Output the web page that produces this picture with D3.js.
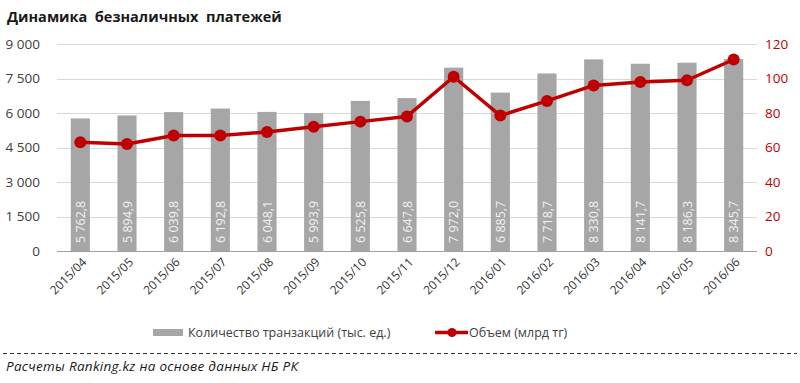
<!DOCTYPE html>
<html><head><meta charset="utf-8">
<script src="https://cdn.jsdelivr.net/npm/d3@7"></script>
<style>
body{margin:0;background:#fff;}
text{font-family:"Open Sans","Noto Sans",sans-serif;}
</style></head>
<body><svg id="c" width="800" height="383"></svg>
<script>
const categories = ["2015/04","2015/05","2015/06","2015/07","2015/08","2015/09","2015/10","2015/11","2015/12","2016/01","2016/02","2016/03","2016/04","2016/05","2016/06"];
const transactions = [5762.8,5894.9,6039.8,6192.8,6048.1,5993.9,6525.8,6647.8,7972.0,6885.7,7718.7,8330.8,8141.7,8186.3,8345.7];
const volume = [63,62,67,67,69,72,75,78,101,78.5,87,96,98,99,111];
const leftTicks = [0,1500,3000,4500,6000,7500,9000];
const rightTicks = [0,20,40,60,80,100,120];
const title = "Динамика  безналичных  платежей";
const seriesNames = ["Количество транзакций (тыс. ед.)","Объем (млрд тг)"];
const footer = "Расчеты Ranking.kz на основе данных НБ РК";

const svg = d3.select("#c");
const L=57,R=757,T=44,B=251;
const x = d3.scaleBand().domain(categories).range([L,R]).paddingInner(0.59).paddingOuter(0.295);
const yL = d3.scaleLinear().domain([0,9000]).range([B,T]);
const yR = d3.scaleLinear().domain([0,120]).range([B,T]);
const fmt = v => d3.format(",")(v).replace(/,/g," ");
const fmtBar = v => d3.format(",.1f")(v).replace(/,/g," ").replace(".",",");

svg.append("text").attr("x",7).attr("y",22).attr("font-size",14.5).attr("font-weight","bold")
  .attr("fill","#1a1a1a").style("white-space","pre").text(title);

// gridlines
svg.append("g").selectAll("line").data(leftTicks.filter(d=>d>0)).join("line")
  .attr("x1",L).attr("x2",R).attr("y1",d=>Math.round(yL(d))+0.5).attr("y2",d=>Math.round(yL(d))+0.5)
  .attr("stroke","#d9d9d9").attr("stroke-width",1);

// left axis
const gl = svg.append("g").attr("transform",`translate(${L},0)`)
  .call(d3.axisLeft(yL).tickValues(leftTicks).tickFormat(fmt).tickSize(0).tickPadding(17));
gl.select(".domain").remove();
gl.selectAll(".tick text").attr("font-size",13.5).attr("fill","#404040").attr("font-family","Open Sans, sans-serif")
  .attr("x",null).attr("transform","translate(-17,0)").attr("text-anchor","end");

// right axis
const gr = svg.append("g").attr("transform",`translate(${R},0)`)
  .call(d3.axisRight(yR).tickValues(rightTicks).tickSize(0).tickPadding(8));
gr.select(".domain").remove();
gr.selectAll("text").attr("font-size",13.5).attr("fill","#c00000").attr("font-family","Open Sans, sans-serif");

// bars
svg.append("g").selectAll("rect").data(transactions).join("rect")
  .attr("x",(d,i)=>x(categories[i])).attr("width",x.bandwidth())
  .attr("y",d=>yL(d)).attr("height",d=>B-yL(d)).attr("fill","#a6a6a6");

// baseline
svg.append("line").attr("x1",L).attr("x2",R).attr("y1",B+0.5).attr("y2",B+0.5).attr("stroke","#a0a0a0").attr("stroke-width",1.2);

// bar labels
svg.append("g").selectAll("text").data(transactions).join("text")
  .attr("transform",(d,i)=>`translate(${x(categories[i])+x.bandwidth()/2+4.5},${B-8}) rotate(-90)`)
  .attr("font-size",12.5).attr("fill","#f2f2f2").attr("text-anchor","start").text(fmtBar);

// line
const cx = i => x(categories[i])+x.bandwidth()/2;
svg.append("path").datum(volume)
  .attr("d",d3.line().x((d,i)=>cx(i)).y(d=>yR(d)))
  .attr("fill","none").attr("stroke","#c00000").attr("stroke-width",3.5).attr("stroke-linejoin","round");
svg.append("g").selectAll("circle").data(volume).join("circle")
  .attr("cx",(d,i)=>cx(i)).attr("cy",d=>yR(d)).attr("r",6).attr("fill","#c00000");

// x axis labels
svg.append("g").selectAll("text").data(categories).join("text")
  .attr("transform",(d)=>`translate(${x(d)+x.bandwidth()/2+7},${B+12}) rotate(-45)`)
  .attr("font-size",12).attr("fill","#333").attr("text-anchor","end").text(d=>d);

// legend
const lg = svg.append("g");
lg.append("rect").attr("x",153).attr("y",329).attr("width",30).attr("height",7).attr("fill","#a6a6a6");
lg.append("text").attr("x",188).attr("y",337).attr("font-size",12.5).attr("fill","#404040").text(seriesNames[0]);
lg.append("line").attr("x1",435).attr("x2",468).attr("y1",332.5).attr("y2",332.5).attr("stroke","#c00000").attr("stroke-width",3.5);
lg.append("circle").attr("cx",452).attr("cy",332.5).attr("r",4.5).attr("fill","#c00000");
lg.append("text").attr("x",469).attr("y",337).attr("font-size",12.5).attr("fill","#404040").text(seriesNames[1]);

// footer
svg.append("line").attr("x1",3).attr("x2",797).attr("y1",353.5).attr("y2",353.5).attr("stroke","#333").attr("stroke-dasharray","4,3");
svg.append("text").attr("x",6).attr("y",371).attr("font-size",13.5).attr("font-style","italic").attr("fill","#1a1a1a")
  .attr("textLength",292).attr("lengthAdjust","spacing").text(footer);
</script></body></html>
